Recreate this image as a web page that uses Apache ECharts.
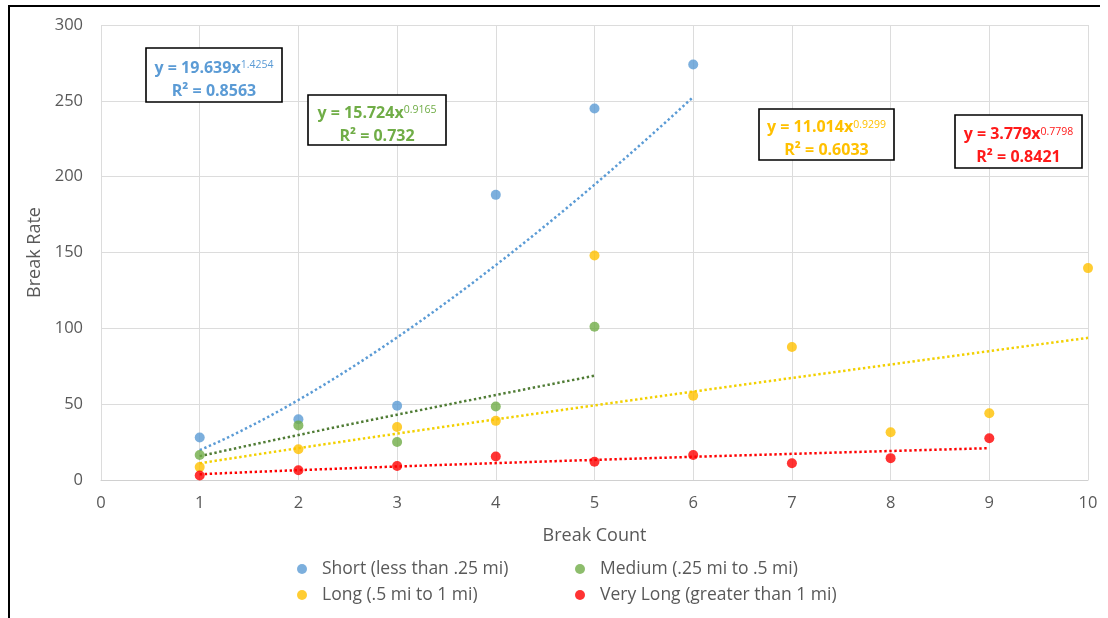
<!DOCTYPE html>
<html>
<head>
<meta charset="utf-8">
<script src="https://cdn.jsdelivr.net/npm/echarts@6/dist/echarts.min.js"></script>
<style>
  html, body { margin: 0; padding: 0; background: #ffffff; }
  #chart { width: 1108px; height: 618px; }
</style>
</head>
<body>
<div id="chart"></div>
<script>
// Break rate by break count, grouped by segment length
const breakCounts = [1, 2, 3, 4, 5, 6, 7, 8, 9, 10];
const shortRates    = [28, 40, 49, 188, 245, 274];
const mediumRates   = [16.5, 36, 25, 48.5, 101];
const longRates     = [8.5, 20.3, 35, 39, 148, 55.5, 87.7, 31.5, 44, 139.7];
const veryLongRates = [3, 6.4, 9.2, 15.5, 12, 16.5, 11, 14.4, 27.5];

const seriesNames = [
  'Short (less than .25 mi)',
  'Medium (.25 mi to .5 mi)',
  'Long (.5 mi to 1 mi)',
  'Very Long (greater than 1 mi)'
];

// Power trendline coefficients y = a * x^b and R² values
const trendA  = [19.639, 15.724, 11.014, 3.779];
const trendB  = [1.4254, 0.9165, 0.9299, 0.7798];
const trendR2 = ['0.8563', '0.732', '0.6033', '0.8421'];

const xTicks = [0, 1, 2, 3, 4, 5, 6, 7, 8, 9, 10];
const yTicks = [0, 50, 100, 150, 200, 250, 300];

const pointColors = ['#5B9BD5', '#70AD47', '#FFC000', '#FF0000'];
const trendColors = ['#5B9BD5', '#507C35', '#F2D000', '#FF0000'];
const labelColors = ['#5B9BD5', '#70AD47', '#FFC000', '#FF1A1A'];

const rateSets = [shortRates, mediumRates, longRates, veryLongRates];

function toPoints(values) {
  return values.map((v, i) => [breakCounts[i], v]);
}

// Sample the fitted power curve from x = 1 to the last break count of the group
function trendCurve(k) {
  const xMax = breakCounts[rateSets[k].length - 1];
  const pts = [];
  const steps = 60;
  for (let i = 0; i <= steps; i++) {
    const x = 1 + (xMax - 1) * i / steps;
    pts.push([x, trendA[k] * Math.pow(x, trendB[k])]);
  }
  return pts;
}

const FONT = '"Open Sans", "Noto Sans", sans-serif';
const GREY = '#595959';

const series = [];
rateSets.forEach((vals, k) => {
  series.push({
    name: seriesNames[k] + ' trend',
    type: 'line',
    data: trendCurve(k),
    showSymbol: false,
    silent: true,
    z: 2,
    lineStyle: { color: trendColors[k], width: 2.5, type: [2.4, 2.6], cap: 'butt' }
  });
});
rateSets.forEach((vals, k) => {
  series.push({
    name: seriesNames[k],
    type: 'scatter',
    data: toPoints(vals),
    symbol: 'circle',
    symbolSize: 10,
    z: 3,
    itemStyle: { color: pointColors[k] }
  });
});

// Equation boxes: [left, top, width, height]
const boxes = [
  [146, 48, 136, 54],
  [308, 95, 138, 50],
  [759, 109, 135, 51],
  [955, 115, 127, 53]
];

const graphics = [
  // frame edges
  { type: 'line', shape: { x1: 8, y1: 6, x2: 1100, y2: 6 }, style: { stroke: '#000', lineWidth: 2 }, z: 10 },
  { type: 'line', shape: { x1: 9, y1: 5, x2: 9, y2: 618 }, style: { stroke: '#000', lineWidth: 2 }, z: 10 }
];

boxes.forEach((b, k) => {
  const cx = b[0] + b[2] / 2;
  const cy = b[1] + b[3] / 2;
  graphics.push({
    type: 'rect',
    shape: { x: b[0], y: b[1], width: b[2], height: b[3] },
    style: { fill: '#ffffff', stroke: '#000000', lineWidth: 1.6 },
    z: 20
  });
  graphics.push({
    type: 'text',
    x: cx,
    y: cy + 1,
    z: 21,
    style: {
      text: '{m|y = ' + trendA[k] + 'x}{s|' + trendB[k] + '}\n{m|R² = ' + trendR2[k] + '}',
      align: 'center',
      verticalAlign: 'middle',
      rich: {
        m: { fontFamily: FONT, fontSize: 16, fontWeight: 'bold', fill: labelColors[k], lineHeight: 23, verticalAlign: 'bottom' },
        s: { fontFamily: FONT, fontSize: 10.5, fill: labelColors[k], lineHeight: 23, verticalAlign: 'bottom', padding: [0, 0, 5, 0] }
      }
    }
  });
});

const chart = echarts.init(document.getElementById('chart'), null, { renderer: 'canvas' });
chart.setOption({
  backgroundColor: '#ffffff',
  animation: false,
  grid: { left: 101, right: 20, top: 25, bottom: 138 },
  xAxis: {
    type: 'value',
    min: xTicks[0],
    max: xTicks[xTicks.length - 1],
    interval: 1,
    name: 'Break Count',
    nameLocation: 'middle',
    nameGap: 47,
    nameTextStyle: { fontFamily: FONT, fontSize: 18, color: GREY },
    axisLine: { show: true, lineStyle: { color: '#D0D0D0', width: 1 } },
    axisTick: { show: false },
    axisLabel: { fontFamily: FONT, fontSize: 16.5, color: GREY, margin: 15 },
    splitLine: { show: true, lineStyle: { color: '#DCDCDC', width: 1 } }
  },
  yAxis: {
    type: 'value',
    min: yTicks[0],
    max: yTicks[yTicks.length - 1],
    interval: 50,
    name: 'Break Rate',
    nameLocation: 'middle',
    nameGap: 55,
    nameTextStyle: { fontFamily: FONT, fontSize: 18, color: GREY },
    axisLine: { show: false },
    axisTick: { show: false },
    axisLabel: { fontFamily: FONT, fontSize: 16.5, color: GREY, margin: 18 },
    splitLine: { show: true, lineStyle: { color: '#DCDCDC', width: 1 } }
  },
  legend: [
    {
      data: [seriesNames[0], seriesNames[2]],
      orient: 'vertical',
      left: 292,
      top: 555,
      itemWidth: 30,
      itemHeight: 10,
      itemGap: 8,
      icon: 'circle',
      textStyle: { fontFamily: FONT, fontSize: 17.5, color: GREY }
    },
    {
      data: [seriesNames[1], seriesNames[3]],
      orient: 'vertical',
      left: 570,
      top: 555,
      itemWidth: 30,
      itemHeight: 10,
      itemGap: 8,
      icon: 'circle',
      textStyle: { fontFamily: FONT, fontSize: 17.5, color: GREY }
    }
  ],
  series: series,
  graphic: graphics
});
</script>
</body>
</html>
